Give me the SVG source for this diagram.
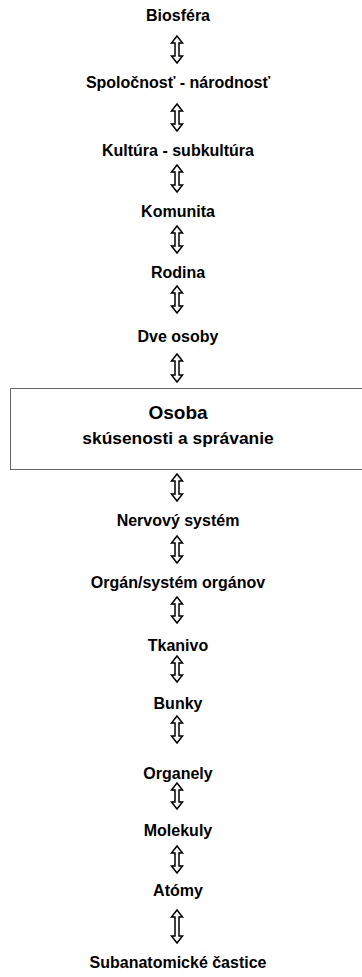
<svg xmlns="http://www.w3.org/2000/svg" width="362" height="977" viewBox="0 0 362 977">
<style>
text{font-family:"Liberation Sans",Arial,sans-serif;font-weight:bold;font-size:16px;fill:#000;text-anchor:middle}
.big{font-size:19px}
.sub{font-size:17.4px}
.arr{fill:#fff;stroke:#000;stroke-width:1.5;stroke-linejoin:miter}
.box{fill:#fff;stroke:#666;stroke-width:1}
</style>
<rect width="362" height="977" fill="#fff"/>
<g id="connectors">
<path class="arr" d="M177,36 L182.5,43 L179,43 L179,56 L182.5,56 L177,63 L171.5,56 L175,56 L175,43 L171.5,43 Z"/>
<path class="arr" d="M177,104 L182.5,111 L179,111 L179,124 L182.5,124 L177,131 L171.5,124 L175,124 L175,111 L171.5,111 Z"/>
<path class="arr" d="M177,165 L182.5,172 L179,172 L179,185 L182.5,185 L177,192 L171.5,185 L175,185 L175,172 L171.5,172 Z"/>
<path class="arr" d="M177,226 L182.5,233 L179,233 L179,246 L182.5,246 L177,253 L171.5,246 L175,246 L175,233 L171.5,233 Z"/>
<path class="arr" d="M177,286 L182.5,293 L179,293 L179,306 L182.5,306 L177,313 L171.5,306 L175,306 L175,293 L171.5,293 Z"/>
<path class="arr" d="M177,354 L182.5,361 L179,361 L179,375 L182.5,375 L177,382 L171.5,375 L175,375 L175,361 L171.5,361 Z"/>
<path class="arr" d="M177,474 L182.5,481 L179,481 L179,494 L182.5,494 L177,501 L171.5,494 L175,494 L175,481 L171.5,481 Z"/>
<path class="arr" d="M177,536 L182.5,543 L179,543 L179,556 L182.5,556 L177,563 L171.5,556 L175,556 L175,543 L171.5,543 Z"/>
<path class="arr" d="M177,597 L182.5,604 L179,604 L179,616 L182.5,616 L177,623 L171.5,616 L175,616 L175,604 L171.5,604 Z"/>
<path class="arr" d="M177,656 L182.5,663 L179,663 L179,675 L182.5,675 L177,682 L171.5,675 L175,675 L175,663 L171.5,663 Z"/>
<path class="arr" d="M177,716 L182.5,723 L179,723 L179,736 L182.5,736 L177,743 L171.5,736 L175,736 L175,723 L171.5,723 Z"/>
<path class="arr" d="M177,783 L182.5,790 L179,790 L179,802 L182.5,802 L177,809 L171.5,802 L175,802 L175,790 L171.5,790 Z"/>
<path class="arr" d="M177,846 L182.5,853 L179,853 L179,866 L182.5,866 L177,873 L171.5,866 L175,866 L175,853 L171.5,853 Z"/>
<path class="arr" d="M177,910 L182.5,917 L179,917 L179,936 L182.5,936 L177,943 L171.5,936 L175,936 L175,917 L171.5,917 Z"/>
</g>
<g id="n-biosfera"><text x="178" y="21">Biosféra</text></g>
<g id="n-spolocnost"><text x="178" y="88">Spoločnosť - národnosť</text></g>
<g id="n-kultura"><text x="178" y="156">Kultúra - subkultúra</text></g>
<g id="n-komunita"><text x="178" y="217">Komunita</text></g>
<g id="n-rodina"><text x="178" y="278">Rodina</text></g>
<g id="n-dve-osoby"><text x="178" y="342">Dve osoby</text></g>
<g id="n-osoba">
<rect class="box" x="10.5" y="388.5" width="360" height="81"/>
<text class="big" x="178" y="419">Osoba</text>
<text class="sub" x="178" y="444">skúsenosti a správanie</text>
</g>
<g id="n-nervovy"><text x="178" y="526">Nervový systém</text></g>
<g id="n-organ"><text x="178" y="588">Orgán/systém orgánov</text></g>
<g id="n-tkanivo"><text x="178" y="651">Tkanivo</text></g>
<g id="n-bunky"><text x="178" y="709">Bunky</text></g>
<g id="n-organely"><text x="178" y="779">Organely</text></g>
<g id="n-molekuly"><text x="178" y="836">Molekuly</text></g>
<g id="n-atomy"><text x="178" y="896">Atómy</text></g>
<g id="n-subanatomicke"><text x="178" y="968">Subanatomické častice</text></g>
</svg>
